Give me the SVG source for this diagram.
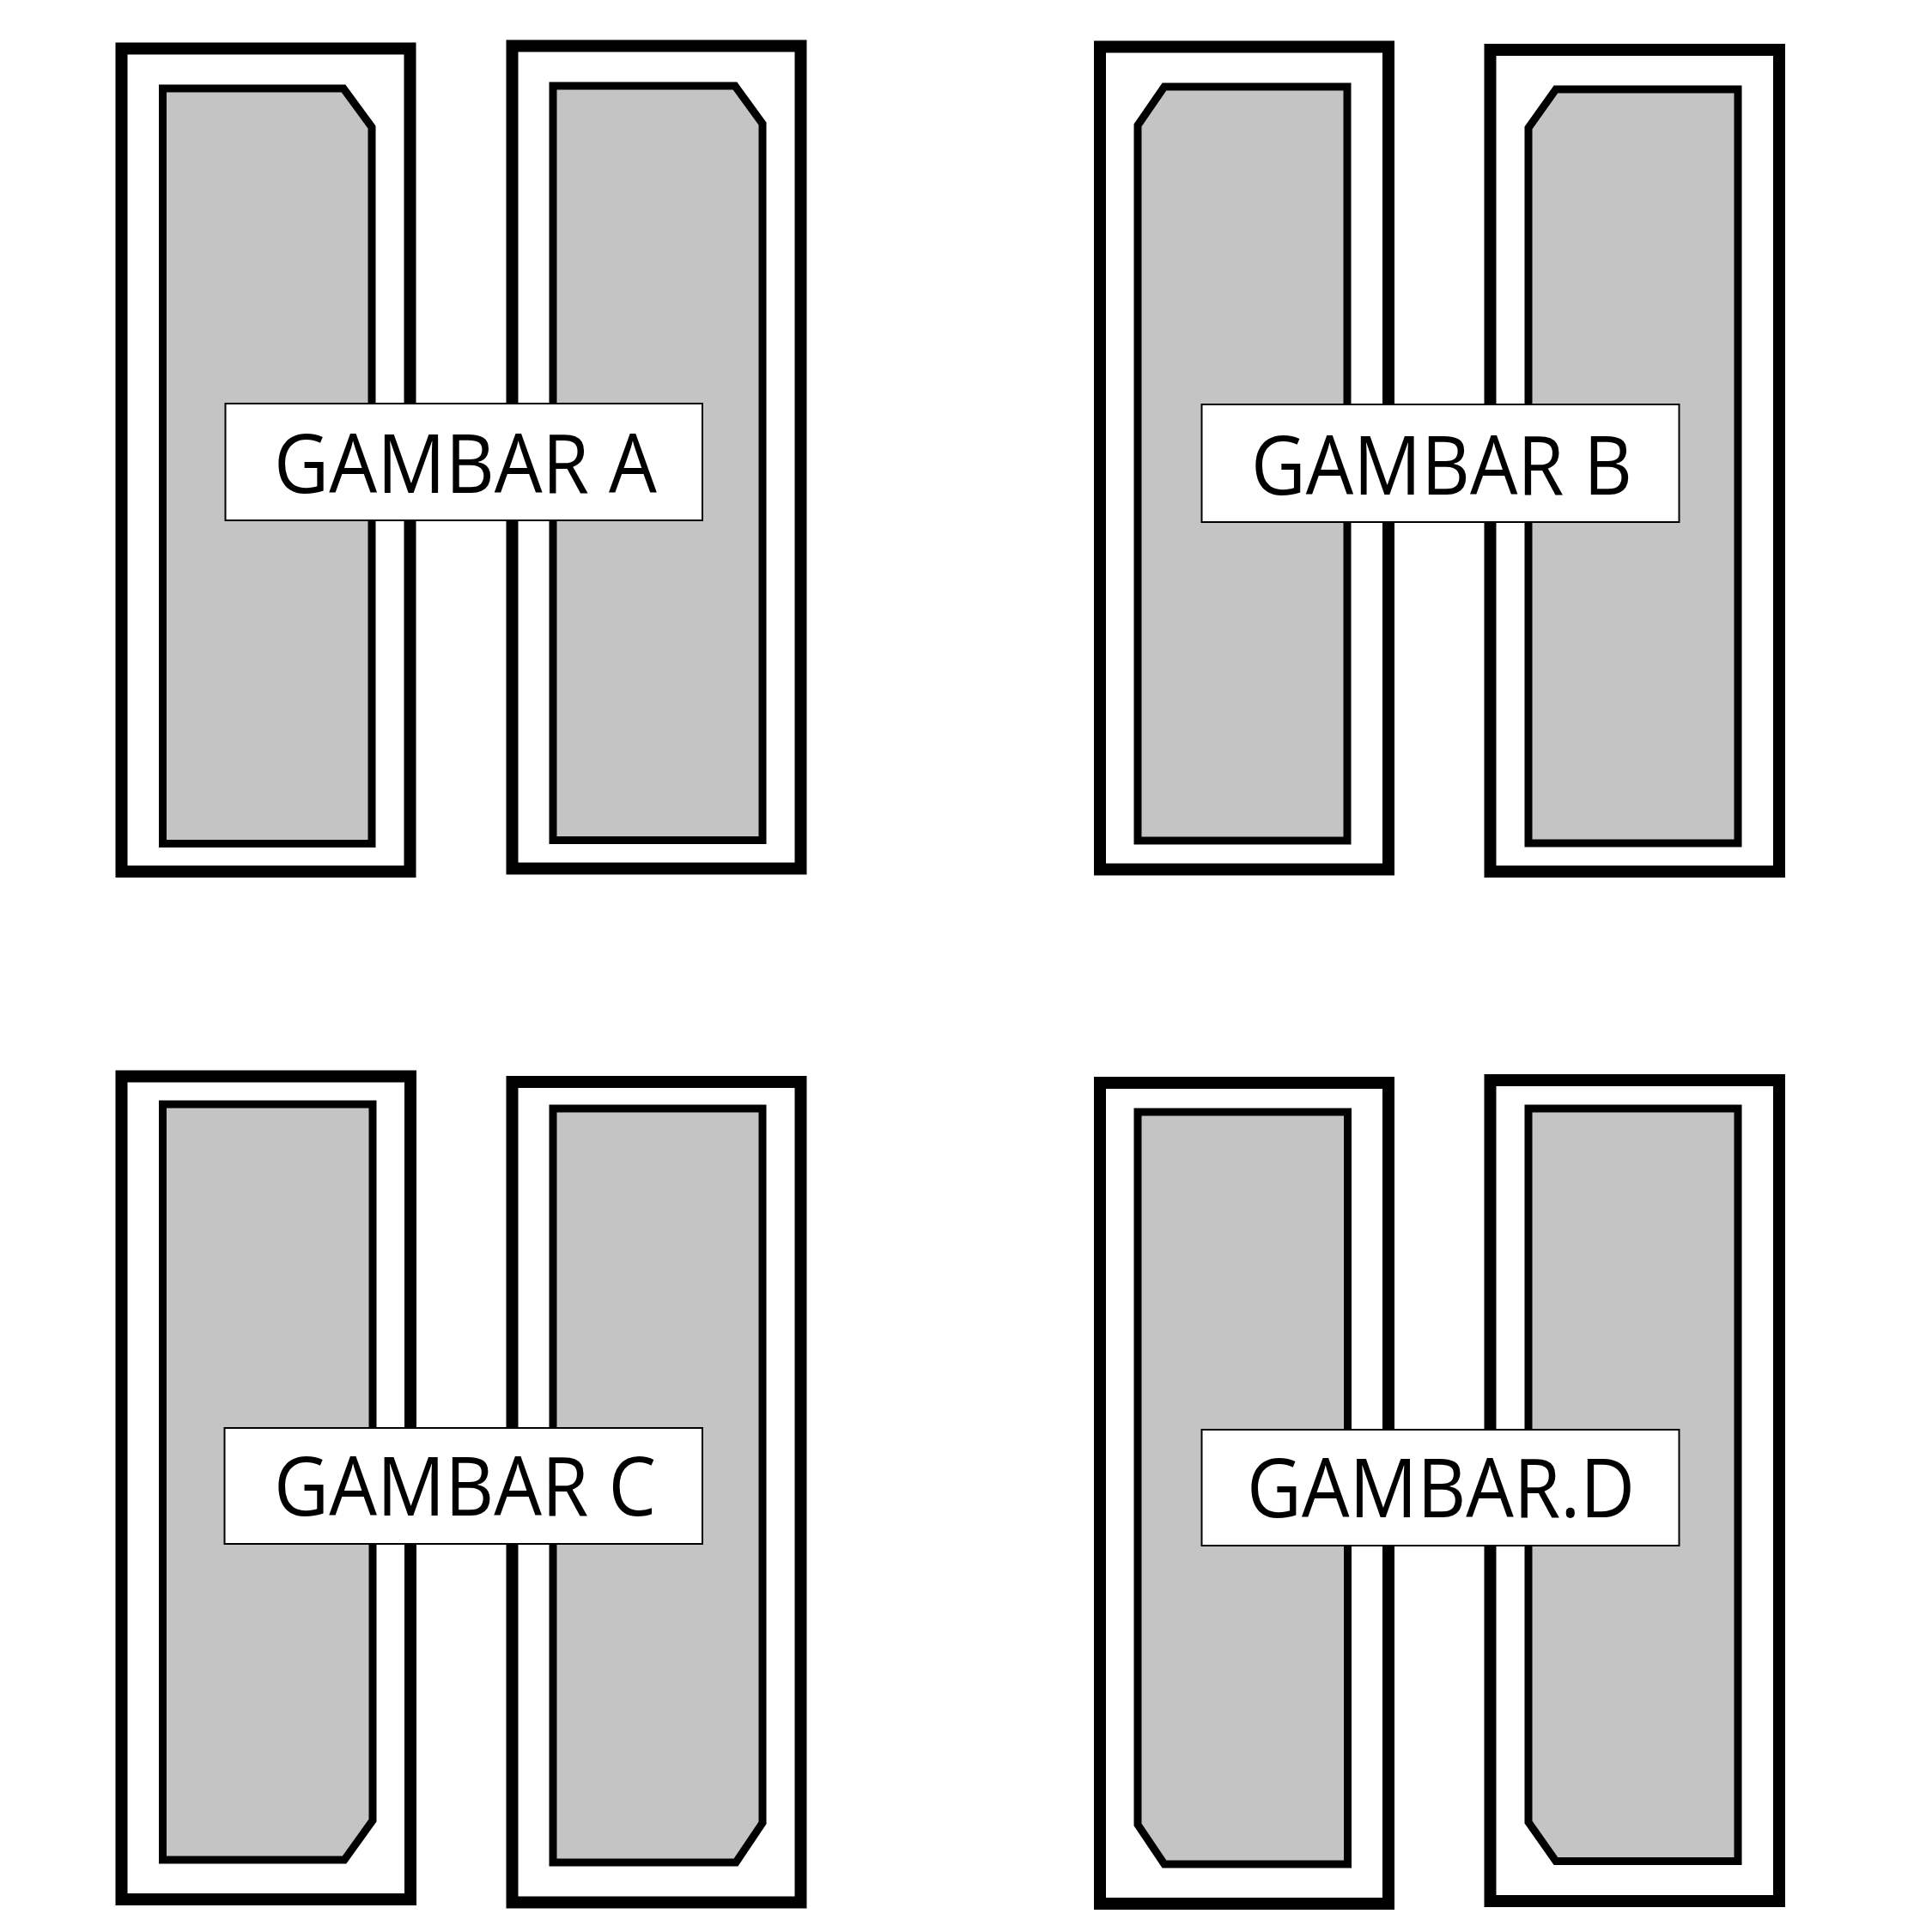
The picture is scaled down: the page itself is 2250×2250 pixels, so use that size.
<svg xmlns="http://www.w3.org/2000/svg" width="2250" height="2250" viewBox="0 0 2250 2250">
<style>
.outer{fill:#ffffff;stroke:#000;stroke-width:14;stroke-linejoin:miter}
.inner{fill:#c4c4c4;stroke:#000;stroke-width:9;stroke-linejoin:miter}
.lbox{fill:#ffffff;stroke:#000;stroke-width:2}
.lbl{font-family:"Open Sans","Noto Sans","Liberation Sans",sans-serif;font-size:96px;fill:#000;text-anchor:middle}
</style>
<rect width="2250" height="2250" fill="#ffffff"/>
<g id="panel-a">
  <rect class="outer" x="141.5" y="56.5" width="336" height="958.5"/>
  <polygon class="inner" points="189.5,103 400,103 433,148 433,982.5 189.5,982.5"/>
  <rect class="outer" x="596.5" y="53.5" width="336" height="958"/>
  <polygon class="inner" points="644,100 856,100 888,144 888,978.5 644,978.5"/>
  <rect class="lbox" x="262.5" y="470" width="555.5" height="136"/>
  <text class="lbl" x="542" y="574" textLength="446" lengthAdjust="spacingAndGlyphs">GAMBAR A</text>
</g>
<g id="panel-b">
  <rect class="outer" x="1281" y="54.5" width="336" height="958"/>
  <polygon class="inner" points="1356,101 1569,101 1569,979 1325,979 1325,146"/>
  <rect class="outer" x="1735.5" y="58" width="336.5" height="957"/>
  <polygon class="inner" points="1812,104 2024,104 2024,982 1780,982 1780,149"/>
  <rect class="lbox" x="1399.5" y="471" width="556" height="137"/>
  <text class="lbl" x="1679" y="575.5" textLength="444" lengthAdjust="spacingAndGlyphs">GAMBAR B</text>
</g>
<g id="panel-c">
  <rect class="outer" x="141.5" y="1253.5" width="336.5" height="958.5"/>
  <polygon class="inner" points="189.5,1286 434,1286 434,2120 401,2166 189.5,2166"/>
  <rect class="outer" x="596.5" y="1260" width="336" height="955.5"/>
  <polygon class="inner" points="644,1291 888,1291 888,2123 857,2169 644,2169"/>
  <rect class="lbox" x="261.5" y="1663" width="556.5" height="135"/>
  <text class="lbl" x="541.5" y="1765" textLength="445" lengthAdjust="spacingAndGlyphs">GAMBAR C</text>
</g>
<g id="panel-d">
  <rect class="outer" x="1281" y="1261" width="336" height="956"/>
  <polygon class="inner" points="1325,1295 1569.5,1295 1569.5,2171 1356,2171 1325,2125"/>
  <rect class="outer" x="1735.5" y="1258" width="336.5" height="956"/>
  <polygon class="inner" points="1780,1291 2024,1291 2024,2167.5 1812,2167.5 1780,2122"/>
  <rect class="lbox" x="1399.5" y="1665" width="556" height="135"/>
  <text class="lbl" x="1678" y="1766.5" textLength="452" lengthAdjust="spacingAndGlyphs">GAMBAR.D</text>
</g>
<g id="connectors"></g>
</svg>
